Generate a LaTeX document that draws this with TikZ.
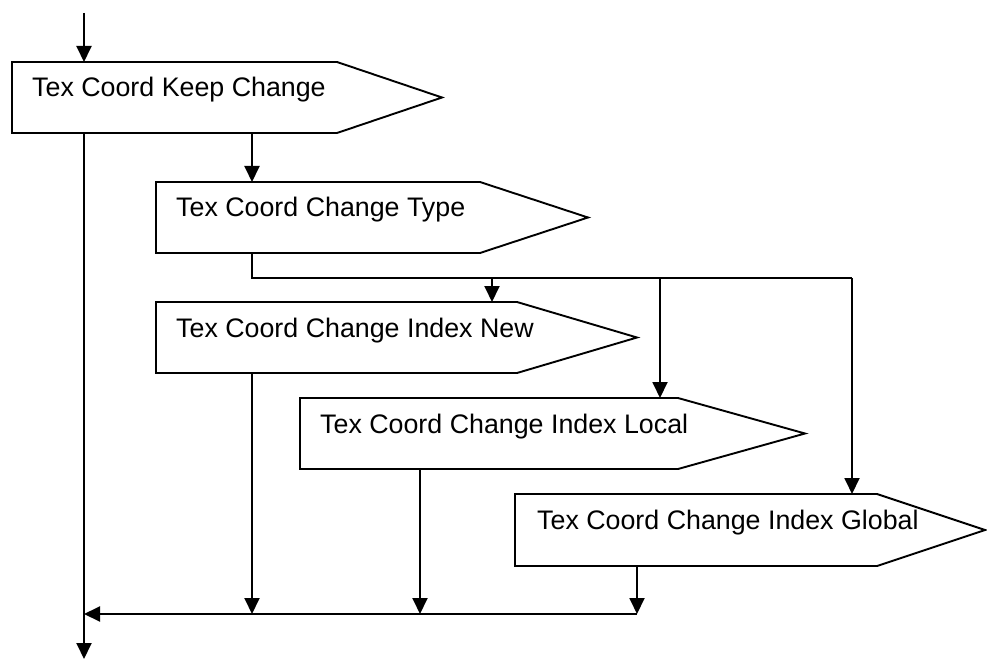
\documentclass[tikz,border=0pt]{standalone}
\usepackage{fontspec}
\setmainfont{Liberation Sans}
\usetikzlibrary{calc,arrows.meta}
\begin{document}
\begin{tikzpicture}[x=1pt,y=-1pt,
  frame/.style={rectangle,inner sep=0pt,outer sep=0pt},
  outline/.style={draw=black,line width=1.9pt,line join=miter,fill=white},
  lbl/.style={anchor=base west,inner sep=0pt,font=\fontsize{26.8}{30}\selectfont},
  link/.style={draw=black,line width=1.9pt},
  arr/.style={link,-{Triangle[length=16pt,width=15pt]}}]
\useasboundingbox (0,0) rectangle (987,660);
% box frames
\node[frame,minimum width=325pt,minimum height=71pt,anchor=north west] (b1) at (12,62) {};
\node[frame,minimum width=324pt,minimum height=71pt,anchor=north west] (b2) at (156,182) {};
\node[frame,minimum width=361pt,minimum height=71pt,anchor=north west] (b3) at (156,302) {};
\node[frame,minimum width=378pt,minimum height=71pt,anchor=north west] (b4) at (300,398) {};
\node[frame,minimum width=362pt,minimum height=72pt,anchor=north west] (b5) at (515,494) {};
% outlines
\draw[outline] (b1.north west) -- (b1.north east) -- ($(b1.east)+(105,0)$) -- (b1.south east) -- (b1.south west) -- cycle;
\draw[outline] (b2.north west) -- (b2.north east) -- ($(b2.east)+(108,0)$) -- (b2.south east) -- (b2.south west) -- cycle;
\draw[outline] (b3.north west) -- (b3.north east) -- ($(b3.east)+(120,0)$) -- (b3.south east) -- (b3.south west) -- cycle;
\draw[outline] (b4.north west) -- (b4.north east) -- ($(b4.east)+(127,0)$) -- (b4.south east) -- (b4.south west) -- cycle;
\draw[outline] (b5.north west) -- (b5.north east) -- ($(b5.east)+(108,0)$) -- (b5.south east) -- (b5.south west) -- cycle;
% labels
\node[lbl] (t1) at ($(b1.north west)+(20,35)$) {Tex Coord Keep Change};
\node[lbl] (t2) at ($(b2.north west)+(20,35)$) {Tex Coord Change Type};
\node[lbl] (t3) at ($(b3.north west)+(20,35)$) {Tex Coord Change Index New};
\node[lbl] (t4) at ($(b4.north west)+(20,35)$) {Tex Coord Change Index Local};
\node[lbl] (t5) at ($(b5.north west)+(22,35)$) {Tex Coord Change Index Global};
% connector points
\coordinate (in) at (84,13);
\coordinate (out) at (84,659);
\coordinate (j) at (252,278);
\coordinate (ja) at (492,278);
\coordinate (jb) at (660,278);
\coordinate (jr) at (852,278);
\coordinate (m) at (637,614);
\coordinate (k4) at (420,614);
% connectors
\draw[arr] (in) -- (in |- b1.north);
\draw[arr] (out |- b1.south) -- (out);
\draw[arr] (j |- b1.south) -- (j |- b2.north);
\draw[link] (j |- b2.south) -- (j) -- (jr);
\draw[arr] (ja) -- (ja |- b3.north);
\draw[arr] (jb) -- (jb |- b4.north);
\draw[arr] (jr) -- (jr |- b5.north);
\draw[arr] (j |- b3.south) -- (j |- m);
\draw[arr] (k4 |- b4.south) -- (k4);
\draw[arr] (m |- b5.south) -- (m);
\draw[arr] (m) -- (m -| out);
\end{tikzpicture}
\end{document}
